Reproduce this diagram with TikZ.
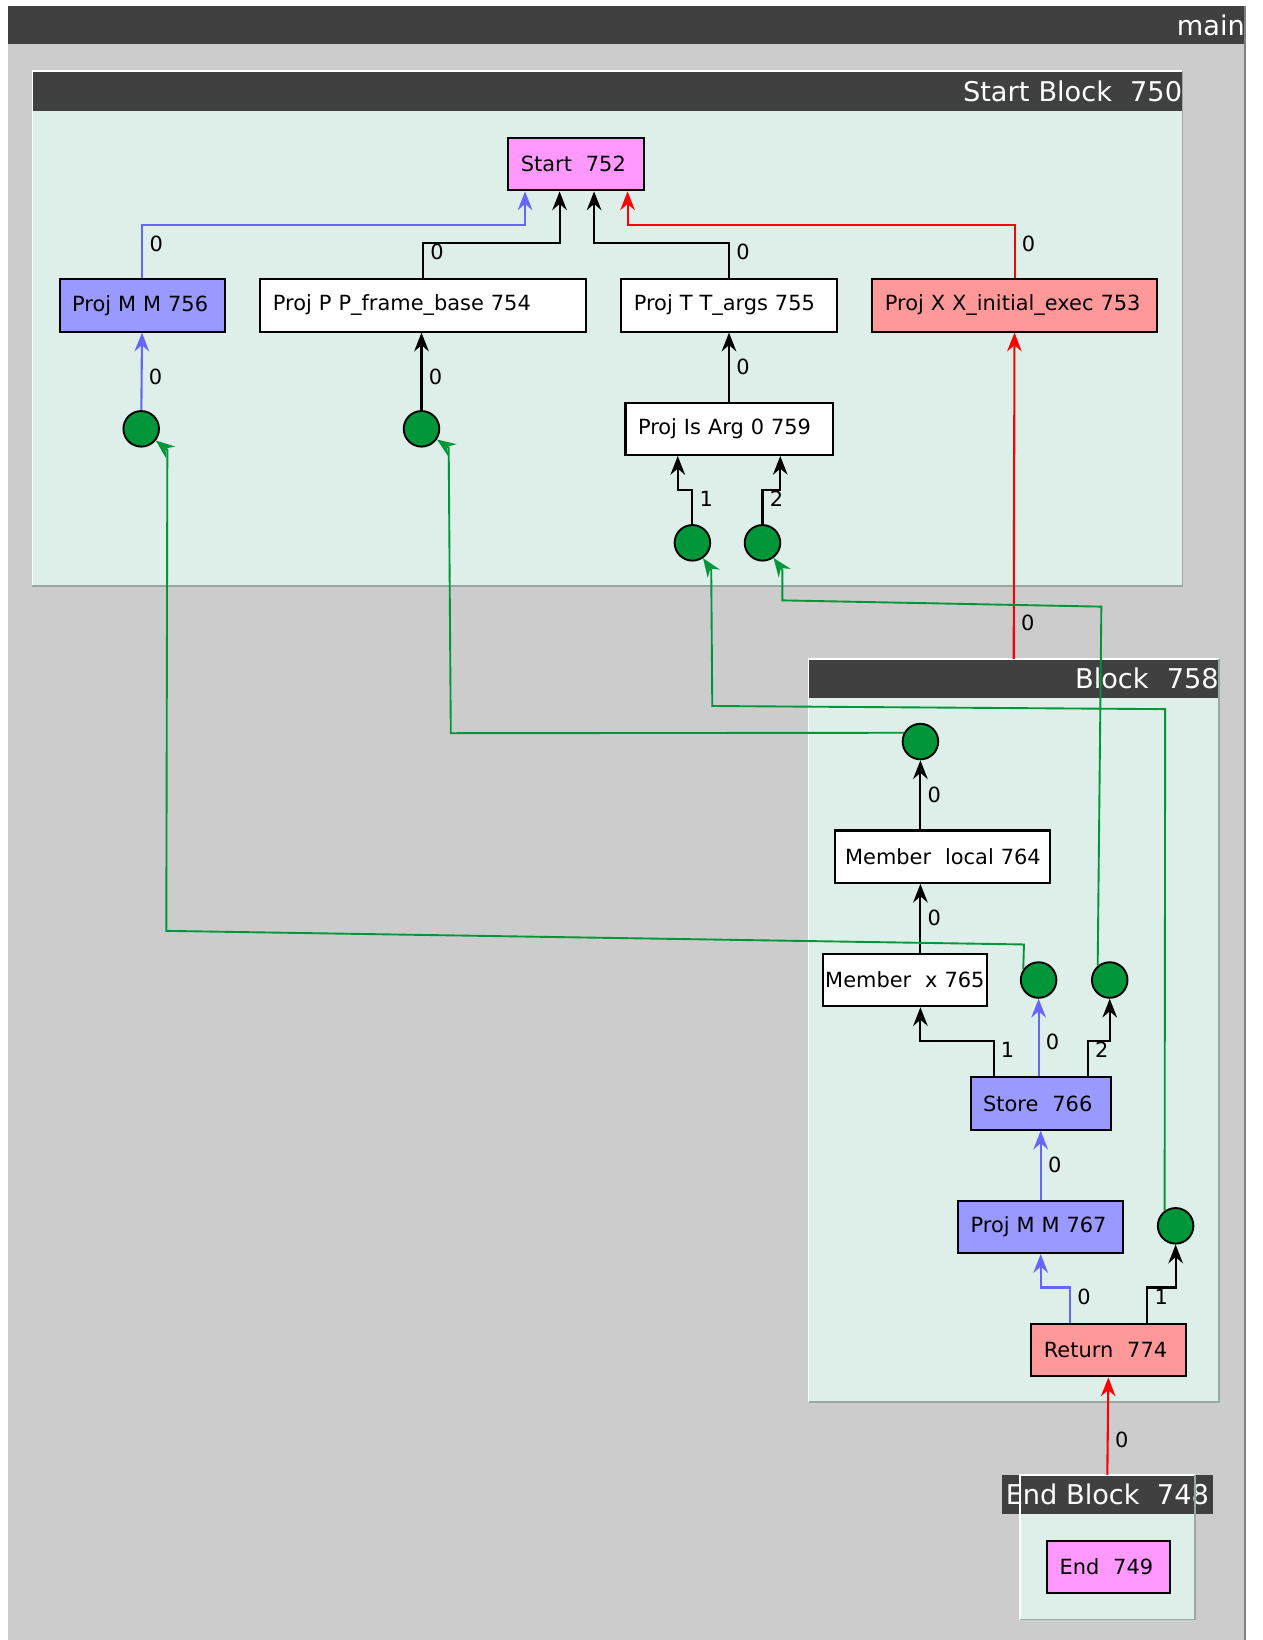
\documentclass[tikz,border=0pt]{standalone}
\usepackage{fontspec}
\setmainfont{DejaVu Sans}
\usetikzlibrary{arrows.meta, calc}

\definecolor{bggray}{RGB}{204,204,204}
\definecolor{bardark}{RGB}{64,64,64}
\definecolor{blockfill}{RGB}{222,238,232}
\definecolor{blockedge}{RGB}{153,168,162}
\definecolor{memfill}{RGB}{153,153,255}
\definecolor{memline}{RGB}{102,102,255}
\definecolor{ctrlfill}{RGB}{255,153,153}
\definecolor{startfill}{RGB}{255,153,255}
\definecolor{phigreen}{RGB}{0,150,57}

\begin{document}
\begin{tikzpicture}[
  x=1pt, y=-1pt,
  irnode/.style={
    draw,
    line width=2pt,
    minimum height=50pt,
    inner xsep=12pt,
    inner ysep=0pt,
    align=left,
    anchor=west,
    font=\fontsize{20}{24}\selectfont
  },
  phi/.style={circle, draw, line width=1.8pt, fill=phigreen, minimum size=34pt, inner sep=0pt},
  cluster/.style={fill=blockfill, anchor=north west, inner sep=0pt},
  titlebar/.style={fill=bardark, text=white, anchor=north west, inner sep=0pt,
    minimum height=38pt, font=\fontsize{26}{30}\selectfont},
  edge/.style={-{Stealth[length=18pt, width=14pt, inset=6pt]}, line width=2pt},
  phiedge/.style={edge, phigreen, line width=1.8pt},
  elab/.style={anchor=west, inner sep=0pt, xshift=6pt, text=black,
    font=\fontsize{20}{24}\selectfont}
]

\useasboundingbox (0,0) rectangle (1207,1568);
\fill[white] (0,0) rectangle (1207,1568);

% Graph frame
\node[cluster, fill=bggray, minimum width=1183pt, minimum height=1562pt] (main) at (7,6) {};
\node[titlebar, minimum height=36pt, text width=1183pt, align=right] (maint) at (main.north west) {main};
\draw[gray, line width=1.5pt] (main.north east) -- (main.south east);

% Start block
\node[cluster, minimum width=1099pt, minimum height=492pt] (sb750) at (31,68) {};
\node[titlebar, text width=1099pt, align=right] (sb750t) at (sb750.north west) {Start Block~~750};
\draw[white, line width=1.5pt] (sb750.south west) -- (sb750.north west) -- (sb750.north east);
\draw[blockedge, line width=1.5pt] (sb750.north east) -- (sb750.south east) -- (sb750.south west);

% Block 758
\node[cluster, minimum width=392pt, minimum height=710pt] (b758) at (773,630) {};
\node[titlebar, minimum height=37pt, text width=392pt, align=right] (b758t) at (b758.north west) {Block~~758};
\draw[white, line width=1.5pt] (b758.south west) -- (b758.north west) -- (b758.north east);
\draw[blockedge, line width=1.5pt] (b758.north east) -- (b758.south east) -- (b758.south west);

% End block
\node[cluster, minimum width=167pt, minimum height=138pt] (eb748) at (975,1410) {};
\node[titlebar, anchor=north, inner xsep=4pt, minimum height=37pt] (eb748t) at (eb748.north) {End Block~~748};
\draw[white, line width=1.5pt] (eb748.south west) -- (eb748.north west) -- (eb748.north east);
\draw[blockedge, line width=1.5pt] (eb748.north east) -- (eb748.south east) -- (eb748.south west);

% Start block nodes
\node[irnode, fill=startfill, text width=106pt] (start) at (485,157) {Start~~752};
\node[irnode, fill=memfill, text width=134pt] (p756) at (56,292) {Proj M M 756};
\node[irnode, fill=white, text width=287pt] (p754) at (248,292) {Proj P P\_frame\_base 754};
\node[irnode, fill=white, text width=182pt] (p755) at (593,292) {Proj T T\_args 755};
\node[irnode, fill=ctrlfill, text width=248pt] (p753) at (833,292) {Proj X X\_initial\_exec 753};
\node[irnode, fill=white, text width=174pt] (p759) at (597,410) {Proj Is Arg 0 759};
\node[phi] (in756) at (135,410) {};
\node[phi] (in754) at (403,410) {};
\node[phi] (in759a) at (662,519) {};
\node[phi] (in759b) at (729,519) {};

% Block 758 nodes
\node[phi] (v764) at (880,709) {};
\node[irnode, fill=white, text width=186pt, inner xsep=10pt] (m764) at (797,819) {\mbox{Member~~local~764}};
\node[irnode, fill=white, text width=153pt, inner xsep=2pt] (m765) at (786,937) {\mbox{Member~~x~765}};
\node[phi] (v766a) at (993,937) {};
\node[phi] (v766b) at (1061,937) {};
\node[irnode, fill=memfill, text width=110pt] (st766) at (927,1055) {Store~~766};
\node[irnode, fill=memfill, text width=134pt] (p767) at (915,1173) {Proj M M 767};
\node[phi] (v774) at (1124,1172) {};
\node[irnode, fill=ctrlfill, text width=124pt] (ret774) at (985,1291) {Return~~774};

% End block node
\node[irnode, fill=startfill, text width=94pt] (end749) at (1000,1498) {End~~749};

% Edges into Start
\draw[edge, memline] (p756.north) -- node[elab, pos=0.65]{0} ++(0,-51) -| ($(start.south)+(-49,0)$);
\draw[edge] (p754.north) -- node[elab, pos=0.74]{0} ++(0,-34) -| ($(start.south)+(-16,0)$);
\draw[edge] (p755.north) -- node[elab, pos=0.74]{0} ++(0,-34) -| ($(start.south)+(17,0)$);
\draw[edge, red] (p753.north) -- node[elab, pos=0.65]{0} ++(0,-51) -| ($(start.south)+(49,0)$);

% Edges into the projections
\draw[edge, memline] (in756) -- node[elab, pos=0.43]{0} (p756);
\draw[edge] (in754) -- node[elab, pos=0.43]{0} (p754.south -| in754);
\draw[edge] (p759) -- node[elab]{0} (p755);
\draw[edge] (in759a.north) -- node[elab, pos=0.74]{1} ++(0,-33) -| ($(p759.south)+(-49,0)$);
\draw[edge] (in759b.north) -- node[elab, pos=0.74]{2} ++(0,-33) -| ($(p759.south)+(49,0)$);
\draw[edge, red] (b758.north) -- node[elab, pos=0.11]{0} (p753);

% Edges inside Block 758
\draw[edge] (m764.north -| v764) -- node[elab]{0} (v764);
\draw[edge] (m765.north -| v764) -- node[elab]{0} (m764.south -| v764);
\draw[edge] ($(st766.north)+(-45,0)$) -- node[elab, pos=0.74]{1} ++(0,-34) -| (m765.south -| v764);
\draw[edge, memline] (st766.north -| v766a) -- node[elab, pos=0.44]{0} (v766a);
\draw[edge] ($(st766.north)+(45,0)$) -- node[elab, pos=0.74]{2} ++(0,-34) -| (v766b);
\draw[edge, memline] (p767) -- node[elab]{0} (st766);
\draw[edge, memline] ($(ret774.north)+(-37,0)$) -- node[elab, pos=0.74]{0} ++(0,-34) -| (p767);
\draw[edge] ($(ret774.north)+(37,0)$) -- node[elab, pos=0.74]{1} ++(0,-34) -| (v774);
\draw[edge, red] (eb748.north) -- node[elab, pos=0.36]{0} (ret774);

% Cross-block edges
\draw[phiedge] (v764.152) -- (431,701) -- (429,428) -- (in754);
\draw[phiedge] (v766a.145) -- (979,903) -- (159,890) -- (160,430) -- (in756);
\draw[phiedge] (v766b.130) -- (1053,580) -- (748,574) -- (748,545) -- (in759b);
\draw[phiedge] (v774.126) -- (1114,678) -- (681,675) -- (680,545) -- (in759a);

\end{tikzpicture}
\end{document}
